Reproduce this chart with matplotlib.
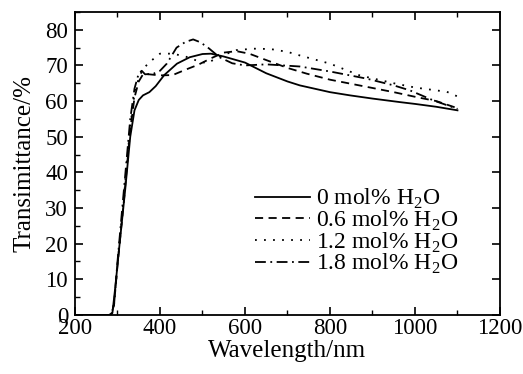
import matplotlib

matplotlib.use("Agg")
import matplotlib.pyplot as plt
from matplotlib.ticker import MultipleLocator

plt.rcParams["font.family"] = ["Liberation Serif", "DejaVu Serif"]
plt.rcParams["mathtext.fontset"] = "custom"
plt.rcParams["mathtext.rm"] = "Liberation Serif"

# Transmitância (comprimento de onda em nm, T em %)
wl_0 = [200, 280, 288, 295, 305, 318, 330, 340, 350, 360, 375, 390, 410, 440,
        470, 500, 520, 550, 600, 650, 700, 729, 800, 847, 900, 965, 1000, 1050, 1100]
t_0 = [0, 0, 0.5, 8, 20, 35, 50, 57.4, 60.3, 61.6, 62.5, 64.2, 67.3, 70.5,
       72.3, 73.2, 73.3, 72.5, 70.8, 67.8, 65.5, 64.4, 62.5, 61.6, 60.7, 59.7, 59.2, 58.4, 57.4]

wl_06 = [200, 285, 292, 300, 315, 330, 340, 350, 360, 375, 400, 430, 460, 490,
         520, 550, 580, 610, 650, 700, 745, 800, 886, 950, 1004, 1050, 1100]
t_06 = [0, 0, 3, 14, 32, 52, 61, 65.5, 67.5, 67.5, 67.2, 67.3, 68.8, 70.2,
        72, 73.6, 74, 73.3, 71.5, 69.3, 67.7, 66, 64, 62.5, 61.1, 60, 58]

wl_12 = [200, 285, 292, 300, 315, 330, 340, 350, 360, 376, 400, 430, 460, 490,
         511, 540, 580, 620, 660, 700, 729, 800, 870, 950, 1000, 1075, 1100]
t_12 = [0, 0, 3, 14, 33, 53, 62, 66.5, 69, 71, 73.3, 73.3, 72.5, 71.2,
        70.6, 72.5, 74.3, 74.7, 74.6, 73.8, 72.8, 70.5, 67.2, 65, 63.8, 62.6, 61.3]

wl_18 = [200, 285, 292, 300, 315, 330, 340, 350, 357, 365, 385, 400, 416, 439,
         460, 478, 495, 515, 540, 570, 600, 650, 729, 800, 886, 950, 988, 1043, 1100]
t_18 = [0, 0, 3, 15, 35, 55, 63.5, 67.8, 68.5, 67.5, 67.7, 68.5, 70.5, 75,
        76.6, 77.3, 76.5, 74.8, 72.3, 70.6, 70, 70.3, 69.7, 68.3, 66.3, 64.4, 63, 60.2, 57.8]

labels = ["0 mol% H$_2$O", "0.6 mol% H$_2$O", "1.2 mol% H$_2$O", "1.8 mol% H$_2$O"]

fig = plt.figure(figsize=(5.23, 3.74), dpi=100)
ax = fig.add_axes([0.1434, 0.158, 0.8126, 0.81])

ax.plot(wl_0, t_0, "-", color="black", lw=1.3, label=labels[0])
ax.plot(wl_06, t_06, color="black", lw=1.3, ls=(0, (4.5, 3)), label=labels[1])
ax.plot(wl_12, t_12, color="black", lw=1.3, ls=(0, (1, 4)), label=labels[2])
ax.plot(wl_18, t_18, color="black", lw=1.3, ls=(0, (6, 2.5, 1, 2.5)), label=labels[3])

ax.set_xlim(200, 1200)
ax.set_ylim(0, 85)
ax.xaxis.set_major_locator(MultipleLocator(200))
ax.xaxis.set_minor_locator(MultipleLocator(100))
ax.yaxis.set_major_locator(MultipleLocator(10))
ax.yaxis.set_minor_locator(MultipleLocator(5))
ax.tick_params(which="major", direction="in", length=6, width=1.2, labelsize=16.5)
ax.tick_params(which="minor", direction="in", length=3.5, width=1.0)
ax.tick_params(axis="x", which="both", top=True, pad=2)
ax.tick_params(axis="y", which="major", right=True, pad=5)
for s in ax.spines.values():
    s.set_linewidth(1.3)

ax.set_xlabel("Wavelength/nm", fontsize=18, labelpad=1)
ax.set_ylabel("Transimittance/%", fontsize=18, labelpad=7)

ax.legend(loc="upper left", bbox_to_anchor=(0.4235, 0.423), frameon=False,
          fontsize=17, handlelength=2.35, handletextpad=0.25, labelspacing=-0.1,
          borderpad=0, borderaxespad=0)

fig.savefig("out.png", dpi=100)
plt.close(fig)
